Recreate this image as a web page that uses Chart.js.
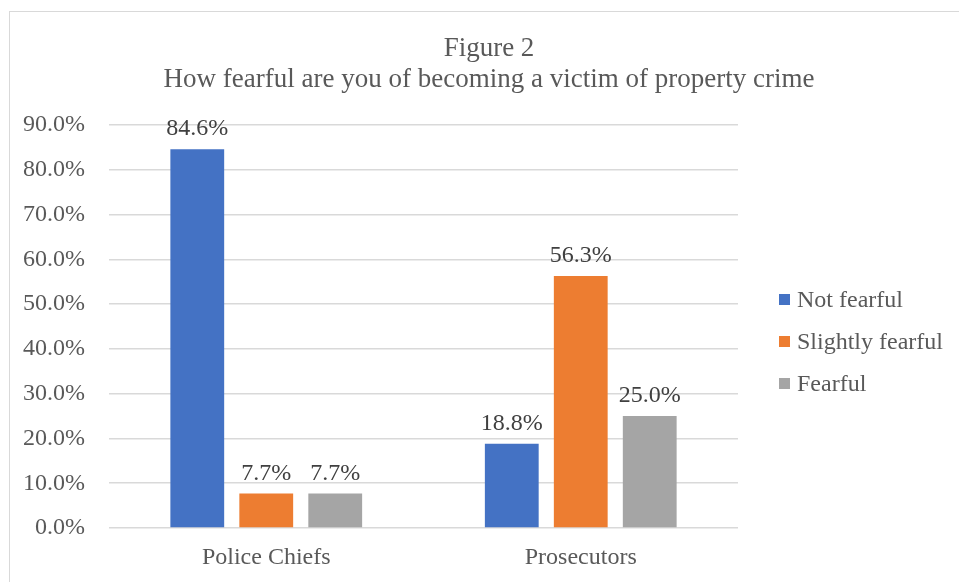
<!DOCTYPE html>
<html>
<head>
<meta charset="utf-8">
<script src="https://cdn.jsdelivr.net/npm/chart.js@4"></script>
<style>
  body { margin: 0; background: #fff; }
  #frame { position: absolute; left: 9px; top: 11px; width: 1000px; height: 1000px; border: 1px solid #d9d9d9; }
  #wrap { position: absolute; left: 0; top: 0; width: 959px; height: 582px; }
  #legend { position: absolute; left: 779px; top: 278px; font-family: "Liberation Serif", "Times New Roman", serif; font-size: 24px; color: #595959; }
  #legend .item { height: 42px; display: flex; align-items: center; white-space: nowrap; }
  #legend .box { width: 11px; height: 11px; margin-right: 7px; }
</style>
</head>
<body>
<div id="frame"></div>
<div id="wrap"><canvas id="fearChart" width="959" height="582"></canvas></div>
<div id="legend"></div>
<script>
var categories = ["Police Chiefs", "Prosecutors"];
var seriesNames = ["Not fearful", "Slightly fearful", "Fearful"];
var notFearful = [84.6, 18.8];
var slightlyFearful = [7.7, 56.3];
var fearful = [7.7, 25.0];
var seriesColors = ["#4472C4", "#ED7D31", "#A5A5A5"];

var serif = "'Liberation Serif', 'Times New Roman', serif";
var textColor = "#595959";

// value labels above each bar
var barLabels = {
  id: "barLabels",
  afterDatasetsDraw: function (chart) {
    var ctx = chart.ctx;
    ctx.save();
    ctx.font = "24px " + serif;
    ctx.fillStyle = "#404040";
    ctx.textAlign = "center";
    ctx.textBaseline = "alphabetic";
    chart.data.datasets.forEach(function (ds, i) {
      chart.getDatasetMeta(i).data.forEach(function (bar, j) {
        ctx.fillText(ds.data[j].toFixed(1) + "%", bar.x, bar.y - 14);
      });
    });
    ctx.restore();
  }
};

var seriesData = [notFearful, slightlyFearful, fearful];
var datasets = seriesNames.map(function (name, i) {
  return {
    label: name,
    data: seriesData[i],
    backgroundColor: seriesColors[i],
    barPercentage: 0.78,
    categoryPercentage: 0.658
  };
});

var chart = new Chart(document.getElementById("fearChart").getContext("2d"), {
  type: "bar",
  data: { labels: categories, datasets: datasets },
  plugins: [barLabels],
  options: {
    responsive: false,
    animation: false,
    layout: { padding: { left: 19, right: 0, top: 0, bottom: 0 } },
    plugins: {
      legend: { display: false },
      tooltip: { enabled: false },
      title: {
        display: true,
        text: ["Figure 2", "How fearful are you of becoming a victim of property crime"],
        color: textColor,
        font: { family: serif, size: 27, weight: "normal", lineHeight: 1.15 },
        padding: { top: 33, bottom: 30 }
      }
    },
    scales: {
      x: {
        grid: { display: false, drawTicks: false },
        border: { display: false },
        ticks: { color: textColor, font: { family: serif, size: 24 }, padding: 15 },
        afterFit: function (s) { s.height = 54; }
      },
      y: {
        min: 0,
        max: 90,
        grid: { color: "#d9d9d9", lineWidth: 1.5, drawTicks: false },
        border: { display: false },
        ticks: {
          stepSize: 10,
          color: textColor,
          font: { family: serif, size: 24 },
          padding: 24,
          callback: function (v) { return v.toFixed(1) + "%"; }
        },
        afterFit: function (s) { s.width = 90; }
      },
      // empty space on the right that holds the legend
      side: {
        type: "linear",
        position: "right",
        display: true,
        grid: { display: false },
        border: { display: false },
        ticks: { display: false },
        afterFit: function (s) { s.width = 221; }
      }
    }
  }
});

var legend = document.getElementById("legend");
seriesNames.forEach(function (name, i) {
  var item = document.createElement("div");
  item.className = "item";
  var box = document.createElement("span");
  box.className = "box";
  box.style.background = seriesColors[i];
  item.appendChild(box);
  item.appendChild(document.createTextNode(name));
  legend.appendChild(item);
});
</script>
</body>
</html>
